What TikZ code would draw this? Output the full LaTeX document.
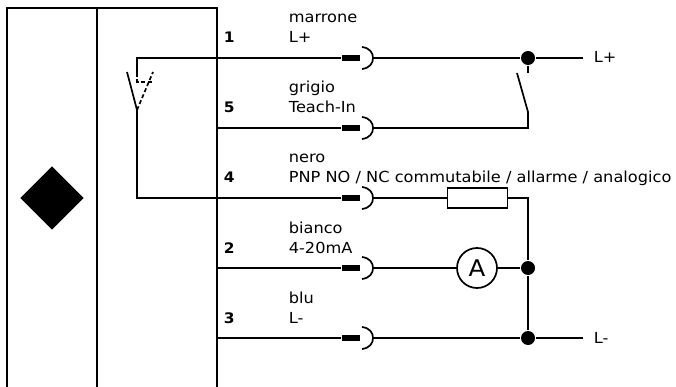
\documentclass[tikz,border=0pt]{standalone}
\usepackage{fontspec}
\setmainfont[FakeStretch=1.065]{DejaVu Sans}
\usetikzlibrary{shapes.geometric}

\begin{document}
\begin{tikzpicture}[x=1pt, y=-1pt, line width=1.7pt,
    wire label/.style={anchor=base west, inner sep=0pt, font=\fontsize{15.2}{17}\selectfont},
    pin label/.style={anchor=base west, inner sep=0pt, font=\fontsize{14.5}{16}\selectfont\bfseries},
    plug bar/.style={fill=black, minimum width=18pt, minimum height=6pt, inner sep=0pt},
    junction/.style={circle, fill=black, minimum size=14pt, inner sep=0pt},
    load box/.style={draw, fill=white, minimum width=60pt, minimum height=20pt, inner sep=0pt},
    meter/.style={circle, draw, fill=white, minimum size=40pt, inner sep=0pt, font=\fontsize{23}{25}\selectfont}
  ]
  \useasboundingbox (0,0) rectangle (676,387);
  \def\pinx{217}
  \def\busx{528}

  % housing
  \coordinate (htl) at (7,8);
  \coordinate (hbl) at (7,387);
  \coordinate (dt) at (97,8);
  \coordinate (db) at (97,387);
  \coordinate (htr) at (\pinx,8);
  \coordinate (hbr) at (\pinx,387);
  \draw (hbl) -- (htl) -- (htr) -- (hbr);
  \draw (dt) -- (db);
  \node [diamond, fill=black, minimum width=64pt, minimum height=64pt, inner sep=0pt] (sensor) at (52,198) {};

  % the five wires with their plugs
  \foreach \n/\y/\wirecolour/\wirefunc in {1/58/marrone/L+, 5/128/grigio/Teach-In,
      4/198/nero/{PNP NO / NC commutabile / allarme / analogico}, 2/268/bianco/4-20mA, 3/338/blu/L-} {
    \coordinate (pin\n) at (\pinx,\y);
    \node [plug bar] (plug\n) at (351,\y) {};
    \coordinate (out\n) at (373,\y);
    \draw (pin\n) -- (plug\n);
    \draw (362,\y-11) .. controls (370,\y-10) and (373,\y-5) .. (out\n) .. controls (373,\y+5) and (370,\y+10) .. (362,\y+11);
    \node [pin label] (num\n) at (223,\y-15) {\n};
    \node [wire label] (colour\n) at (288,\y-35) {\wirecolour};
    \node [wire label] (func\n) at (288,\y-15) {\wirefunc};
  }

  % output switch inside the housing
  \coordinate (sw1) at (137,58);
  \coordinate (sw2) at (137,82);
  \coordinate (sw3) at (152,82);
  \coordinate (swpivot) at (137,110);
  \coordinate (swopen) at (127,72);
  \coordinate (swalt) at (153,72);
  \coordinate (sw4) at (137,198);
  \draw (pin1) -- (sw1) -- (137,73);
  \draw [dashed, dash pattern=on 4pt off 2.5pt] (137,73) -- (sw2) -- (sw3);
  \draw [dashed, dash pattern=on 4pt off 2.5pt] (swpivot) -- (swalt);
  \draw (swopen) -- (swpivot) -- (sw4) -- (pin4);

  % external circuit
  \node [junction] (j1) at (\busx,58) {};
  \node [junction] (j2) at (\busx,268) {};
  \node [junction] (j3) at (\busx,338) {};
  \node [wire label] (lplus) at (593,63) {L+};
  \node [wire label] (lminus) at (593,343) {L-};
  \coordinate (endplus) at (583,58);
  \coordinate (endminus) at (583,338);
  \draw (out1) -- (j1) -- (endplus);
  \draw (out3) -- (j3) -- (endminus);

  % teach button
  \coordinate (tstub) at (\busx,73);
  \coordinate (tfree) at (517,73);
  \coordinate (tpivot) at (\busx,112);
  \coordinate (tcorner) at (\busx,128);
  \draw (j1) -- (tstub);
  \draw (tfree) -- (tpivot) -- (tcorner) -- (out5);

  % loads
  \node [load box] (load) at (477.5,198) {};
  \node [meter] (ammeter) at (477,268) {A};
  \coordinate (lc) at (\busx,198);
  \draw (out4) -- (load);
  \draw (load) -- (lc) -- (j2);
  \draw (j2) -- (j3);
  \draw (out2) -- (ammeter) -- (j2);
\end{tikzpicture}
\end{document}
